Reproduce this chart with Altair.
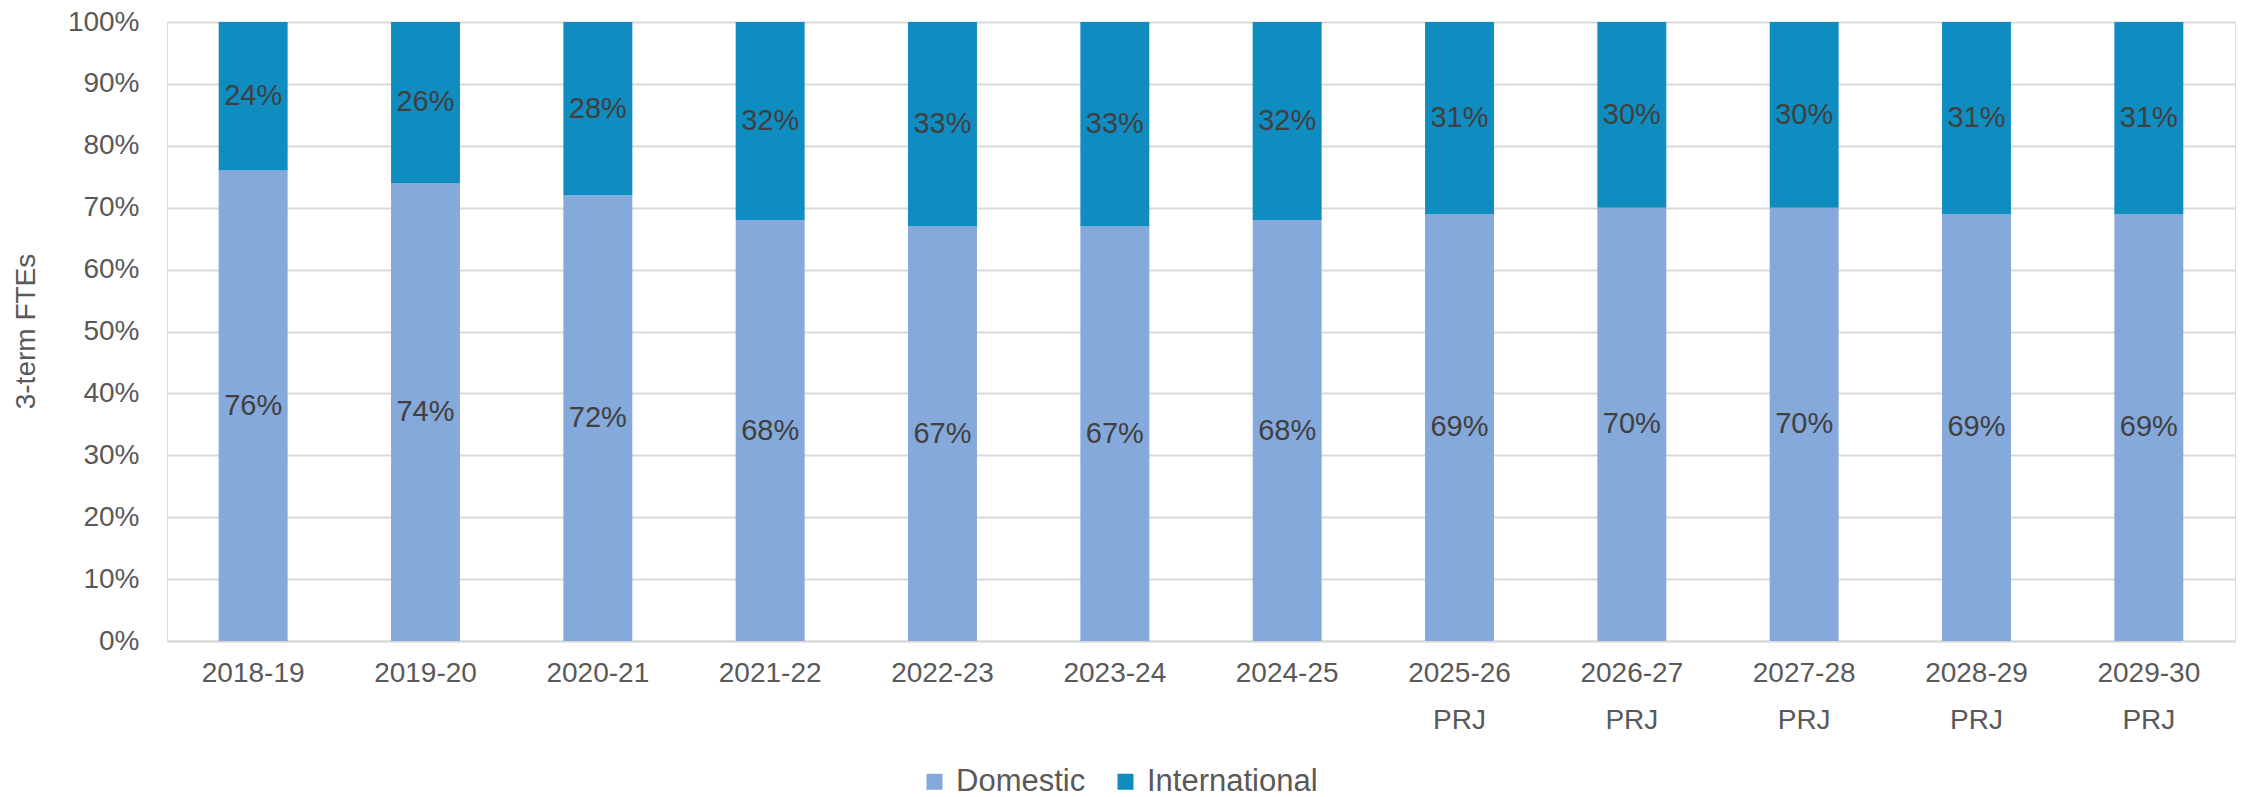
import altair as alt
import pandas as pd

years = ["2018-19", "2019-20", "2020-21", "2021-22", "2022-23", "2023-24", "2024-25",
         "2025-26 PRJ", "2026-27 PRJ", "2027-28 PRJ", "2028-29 PRJ", "2029-30 PRJ"]
domestic = [76, 74, 72, 68, 67, 67, 68, 69, 70, 70, 69, 69]
international = [24, 26, 28, 32, 33, 33, 32, 31, 30, 30, 31, 31]
series = ["Domestic", "International"]
colors = ["#85A9DB", "#0F8CC0"]

rows = []
for i, y in enumerate(years):
    rows.append({"year": y, "series": "Domestic", "value": domestic[i], "ord": 0})
    rows.append({"year": y, "series": "International", "value": international[i], "ord": 1})
df = pd.DataFrame(rows)

FONT = "Liberation Sans"

base = alt.Chart(df).transform_stack(
    stack="value", groupby=["year"], as_=["v0", "v1"], sort=[alt.SortField("ord", order="ascending")]
).transform_calculate(mid="(datum.v0 + datum.v1) / 2")

x = alt.X("year:N", sort=years, title=None,
          scale=alt.Scale(paddingInner=0.6, paddingOuter=0.3),
          axis=alt.Axis(labelExpr="split(datum.label, ' ')", labelAngle=0, labelFontSize=28,
                        labelColor="#595959", labelFont=FONT, labelPadding=32, ticks=False,
                        domainColor="#d9d9d9", domainWidth=2, labelLineHeight=47,
                        labelBaseline="middle"))

bars = base.mark_bar().encode(
    x=x,
    y=alt.Y("v0:Q", scale=alt.Scale(domain=[0, 100]), title="3-term FTEs",
            axis=alt.Axis(values=list(range(0, 101, 10)), labelExpr="datum.value + '%'",
                          labelFontSize=28, labelColor="#595959", labelFont=FONT,
                          ticks=False, domain=False, gridColor="#d9d9d9", gridWidth=2,
                          labelPadding=28, titleFont=FONT, titleFontSize=28,
                          titleColor="#595959", titleFontWeight="normal",
                          titleX=-141, titleY=309, titleBaseline="middle", titleAngle=-90)),
    y2="v1:Q",
    color=alt.Color("series:N", scale=alt.Scale(domain=series, range=colors), title=None,
                    legend=alt.Legend(orient="none", legendX=752, legendY=744, direction="horizontal",
                                      symbolType="square", symbolSize=256, symbolStrokeWidth=0,
                                      labelFontSize=31, labelFont=FONT, labelColor="#595959",
                                      labelLimit=500, columnPadding=24, labelOffset=6, padding=0)),
)

labels = base.mark_text(fontSize=29, font=FONT, color="#404040").encode(
    x=alt.X("year:N", sort=years),
    y="mid:Q",
    text=alt.Text("label:N"),
).transform_calculate(label="datum.value + '%'")

chart = alt.layer(bars, labels).properties(
    width=2068, height=619,
    autosize=alt.AutoSizeParams(type="none"),
    padding={"left": 167, "top": 22, "right": 9, "bottom": 156},
).configure_view(stroke=None).configure(background="white")

chart.save("out.html", embed_options={"renderer": "svg", "actions": False})
